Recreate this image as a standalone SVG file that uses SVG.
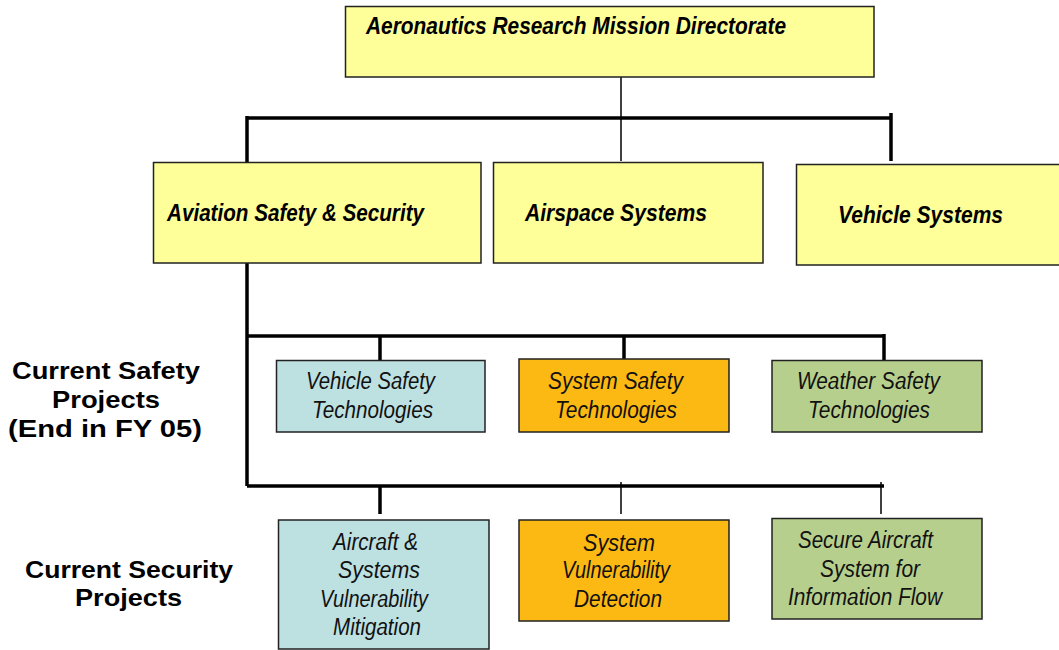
<svg xmlns="http://www.w3.org/2000/svg" width="1059" height="650" viewBox="0 0 1059 650">
<style>
.box{stroke:#222;stroke-width:1.5}
.yel{fill:#FFFF99}
.blu{fill:#BDE0E1}
.org{fill:#FDB913}
.grn{fill:#B7CF8D}
.bi{font-family:"Liberation Sans",Arial,sans-serif;font-weight:bold;font-style:italic;font-size:24px;fill:#000}
.it{font-family:"Liberation Sans",Arial,sans-serif;font-style:italic;font-size:23px;fill:#111}
.lb{font-family:"Liberation Sans",Arial,sans-serif;font-weight:bold;font-size:24px;fill:#000;text-anchor:middle}
.thick{stroke:#000;stroke-width:3.5;fill:none}
.thin{stroke:#000;stroke-width:1.5;fill:none}
</style>
<rect width="1059" height="650" fill="#fff"/>
<g id="connectors">
<line class="thin" x1="621" y1="77" x2="621" y2="161"/>
<line class="thick" x1="247" y1="118" x2="891" y2="118"/>
<line class="thick" x1="247" y1="116" x2="247" y2="162"/>
<line class="thick" x1="891" y1="113" x2="891" y2="161"/>
<line class="thick" x1="247" y1="263" x2="247" y2="486"/>
<line class="thick" x1="247" y1="336" x2="885" y2="336"/>
<line class="thick" x1="380" y1="336" x2="380" y2="361"/>
<line class="thick" x1="624" y1="336" x2="624" y2="359"/>
<line class="thick" x1="884" y1="334" x2="884" y2="360"/>
<line class="thick" x1="247" y1="486" x2="884" y2="486"/>
<line class="thick" x1="380" y1="486" x2="380" y2="514"/>
<line class="thin" x1="621" y1="482" x2="621" y2="514"/>
<line class="thin" x1="881" y1="482" x2="881" y2="514"/>
</g>
<g id="node-armd">
<rect class="box yel" x="345.5" y="6.5" width="528.5" height="70.5"/>
<text class="bi" x="366" y="34" textLength="420" lengthAdjust="spacingAndGlyphs">Aeronautics Research Mission Directorate</text>
</g>
<g id="node-avss">
<rect class="box yel" x="153.5" y="162.5" width="327.5" height="100.5"/>
<text class="bi" x="167" y="221" textLength="257" lengthAdjust="spacingAndGlyphs">Aviation Safety &amp; Security</text>
</g>
<g id="node-airspace">
<rect class="box yel" x="493.5" y="162.5" width="269.5" height="100.5"/>
<text class="bi" x="525" y="221" textLength="182" lengthAdjust="spacingAndGlyphs">Airspace Systems</text>
</g>
<g id="node-vehicle">
<rect class="box yel" x="796.5" y="164.5" width="265" height="100.5"/>
<text class="bi" x="838" y="223" textLength="165" lengthAdjust="spacingAndGlyphs">Vehicle Systems</text>
</g>
<g id="label-safety">
<text class="lb" x="106" y="379" textLength="188" lengthAdjust="spacingAndGlyphs">Current Safety</text>
<text class="lb" x="106" y="408" textLength="108" lengthAdjust="spacingAndGlyphs">Projects</text>
<text class="lb" x="105" y="437" textLength="194" lengthAdjust="spacingAndGlyphs">(End in FY 05)</text>
</g>
<g id="label-security">
<text class="lb" x="129" y="578" textLength="208" lengthAdjust="spacingAndGlyphs">Current Security</text>
<text class="lb" x="128.5" y="606" textLength="107" lengthAdjust="spacingAndGlyphs">Projects</text>
</g>
<g id="node-vst">
<rect class="box blu" x="276.5" y="360.5" width="208.5" height="71.5"/>
<text class="it" x="306" y="389" textLength="129" lengthAdjust="spacingAndGlyphs">Vehicle Safety</text>
<text class="it" x="312" y="418" textLength="121" lengthAdjust="spacingAndGlyphs">Technologies</text>
</g>
<g id="node-sst">
<rect class="box org" x="519" y="359" width="210" height="73"/>
<text class="it" x="548" y="389" textLength="135" lengthAdjust="spacingAndGlyphs">System Safety</text>
<text class="it" x="555" y="418" textLength="122" lengthAdjust="spacingAndGlyphs">Technologies</text>
</g>
<g id="node-wst">
<rect class="box grn" x="772" y="360.5" width="210" height="71.5"/>
<text class="it" x="797" y="389" textLength="143" lengthAdjust="spacingAndGlyphs">Weather Safety</text>
<text class="it" x="808" y="418" textLength="122" lengthAdjust="spacingAndGlyphs">Technologies</text>
</g>
<g id="node-asvm">
<rect class="box blu" x="278.5" y="520" width="210.5" height="129"/>
<text class="it" x="333" y="550" textLength="85" lengthAdjust="spacingAndGlyphs">Aircraft &amp;</text>
<text class="it" x="338" y="578" textLength="82" lengthAdjust="spacingAndGlyphs">Systems</text>
<text class="it" x="320" y="607" textLength="108" lengthAdjust="spacingAndGlyphs">Vulnerability</text>
<text class="it" x="333" y="635" textLength="88" lengthAdjust="spacingAndGlyphs">Mitigation</text>
</g>
<g id="node-svd">
<rect class="box org" x="519" y="520" width="210" height="101"/>
<text class="it" x="583" y="551" textLength="72" lengthAdjust="spacingAndGlyphs">System</text>
<text class="it" x="562" y="578" textLength="108" lengthAdjust="spacingAndGlyphs">Vulnerability</text>
<text class="it" x="574" y="607" textLength="88" lengthAdjust="spacingAndGlyphs">Detection</text>
</g>
<g id="node-safif">
<rect class="box grn" x="772" y="518.5" width="210" height="100.5"/>
<text class="it" x="798" y="548" textLength="135" lengthAdjust="spacingAndGlyphs">Secure Aircraft</text>
<text class="it" x="820" y="577" textLength="100" lengthAdjust="spacingAndGlyphs">System for</text>
<text class="it" x="788" y="605" textLength="154" lengthAdjust="spacingAndGlyphs">Information Flow</text>
</g>
</svg>
